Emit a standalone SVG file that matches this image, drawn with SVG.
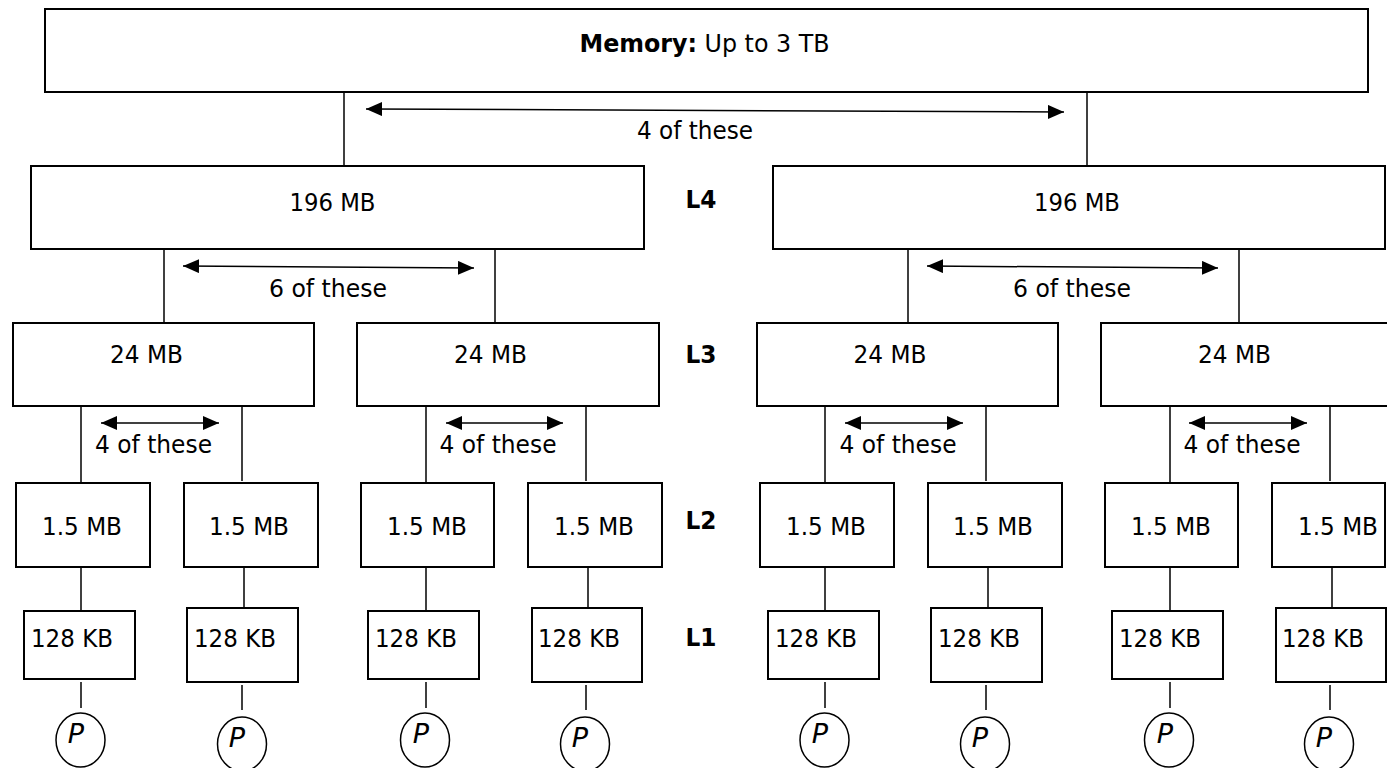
<svg xmlns="http://www.w3.org/2000/svg" width="1387" height="768" viewBox="0 0 1387 768">
<style>
.box{fill:#fff;stroke:#000;stroke-width:2}
.ln{stroke:#000;stroke-width:1.5;fill:none}
.ar{stroke:#000;stroke-width:1.5;fill:none;marker-start:url(#ah);marker-end:url(#ah)}
.t{font-family:"DejaVu Sans",Verdana,sans-serif;font-size:25px;fill:#000}
.c{text-anchor:middle}
.b{font-weight:bold}
.p{font-style:italic;font-size:27px}
.pc{fill:#fff;stroke:#000;stroke-width:1.5}
</style>
<defs>
<marker id="ah" markerUnits="userSpaceOnUse" markerWidth="16" markerHeight="14" refX="16" refY="7" orient="auto-start-reverse">
<path d="M0,0 L16,7 L0,14 z" fill="#000"/>
</marker>
</defs>
<rect width="1387" height="768" fill="#fff"/>
<g id="connectors">
<line class="ln" x1="344" y1="92" x2="344" y2="166"/>
<line class="ln" x1="1087" y1="92" x2="1087" y2="166"/>
<line class="ar" x1="366" y1="109" x2="1064" y2="112"/>
<line class="ln" x1="164" y1="249" x2="164" y2="323"/>
<line class="ln" x1="495" y1="249" x2="495" y2="323"/>
<line class="ln" x1="908" y1="249" x2="908" y2="323"/>
<line class="ln" x1="1239" y1="249" x2="1239" y2="323"/>
<line class="ar" x1="183" y1="266" x2="474" y2="268"/>
<line class="ar" x1="927" y1="266" x2="1218" y2="268"/>
<line class="ln" x1="81" y1="406" x2="81" y2="483"/>
<line class="ln" x1="242" y1="404" x2="242" y2="481"/>
<line class="ln" x1="426" y1="406" x2="426" y2="483"/>
<line class="ln" x1="586" y1="404" x2="586" y2="481"/>
<line class="ln" x1="825" y1="406" x2="825" y2="483"/>
<line class="ln" x1="986" y1="404" x2="986" y2="481"/>
<line class="ln" x1="1170" y1="406" x2="1170" y2="483"/>
<line class="ln" x1="1330" y1="404" x2="1330" y2="481"/>
<line class="ar" x1="101" y1="423" x2="219" y2="423"/>
<line class="ar" x1="446" y1="423" x2="563" y2="423"/>
<line class="ar" x1="845" y1="423" x2="963" y2="423"/>
<line class="ar" x1="1189" y1="423" x2="1307" y2="423"/>
<line class="ln" x1="81" y1="567" x2="81" y2="611"/>
<line class="ln" x1="244" y1="567" x2="244" y2="608"/>
<line class="ln" x1="426" y1="567" x2="426" y2="611"/>
<line class="ln" x1="588" y1="567" x2="588" y2="608"/>
<line class="ln" x1="825" y1="567" x2="825" y2="611"/>
<line class="ln" x1="988" y1="567" x2="988" y2="608"/>
<line class="ln" x1="1170" y1="567" x2="1170" y2="611"/>
<line class="ln" x1="1332" y1="567" x2="1332" y2="608"/>
<line class="ln" x1="81" y1="682" x2="81" y2="708"/>
<line class="ln" x1="242" y1="685" x2="242" y2="710"/>
<line class="ln" x1="426" y1="682" x2="426" y2="708"/>
<line class="ln" x1="586" y1="685" x2="586" y2="710"/>
<line class="ln" x1="825" y1="682" x2="825" y2="708"/>
<line class="ln" x1="986" y1="685" x2="986" y2="710"/>
<line class="ln" x1="1170" y1="682" x2="1170" y2="708"/>
<line class="ln" x1="1330" y1="685" x2="1330" y2="710"/>
</g>
<g id="labels">
<text class="t c" x="695" y="139" textLength="116" lengthAdjust="spacingAndGlyphs">4 of these</text>
<text class="t c" x="328" y="297" textLength="118" lengthAdjust="spacingAndGlyphs">6 of these</text>
<text class="t c" x="1072" y="297" textLength="118" lengthAdjust="spacingAndGlyphs">6 of these</text>
<text class="t c" x="153.5" y="453" textLength="117" lengthAdjust="spacingAndGlyphs">4 of these</text>
<text class="t c" x="498" y="453" textLength="117" lengthAdjust="spacingAndGlyphs">4 of these</text>
<text class="t c" x="898" y="453" textLength="117" lengthAdjust="spacingAndGlyphs">4 of these</text>
<text class="t c" x="1242" y="453" textLength="117" lengthAdjust="spacingAndGlyphs">4 of these</text>
<text class="t b c" x="701" y="208" textLength="31" lengthAdjust="spacingAndGlyphs">L4</text>
<text class="t b c" x="701" y="363" textLength="31" lengthAdjust="spacingAndGlyphs">L3</text>
<text class="t b c" x="701" y="529" textLength="31" lengthAdjust="spacingAndGlyphs">L2</text>
<text class="t b c" x="701" y="646" textLength="31" lengthAdjust="spacingAndGlyphs">L1</text>
</g>
<g id="memory">
<rect class="box" x="45" y="9" width="1323" height="83"/>
<text class="t c" x="704.5" y="52" textLength="250" lengthAdjust="spacingAndGlyphs"><tspan class="b">Memory:</tspan> Up to 3 TB</text>
</g>
<g id="l4-a"><rect class="box" x="31" y="166" width="613" height="83"/><text class="t c" x="332.5" y="211" textLength="86" lengthAdjust="spacingAndGlyphs">196 MB</text></g>
<g id="l4-b"><rect class="box" x="773" y="166" width="612" height="83"/><text class="t c" x="1077" y="211" textLength="86" lengthAdjust="spacingAndGlyphs">196 MB</text></g>
<g id="l3-a"><rect class="box" x="13" y="323" width="301" height="83"/><text class="t c" x="146.5" y="363" textLength="73" lengthAdjust="spacingAndGlyphs">24 MB</text></g>
<g id="l3-b"><rect class="box" x="357" y="323" width="302" height="83"/><text class="t c" x="490.5" y="363" textLength="73" lengthAdjust="spacingAndGlyphs">24 MB</text></g>
<g id="l3-c"><rect class="box" x="757" y="323" width="301" height="83"/><text class="t c" x="890" y="363" textLength="73" lengthAdjust="spacingAndGlyphs">24 MB</text></g>
<g id="l3-d"><rect class="box" x="1101" y="323" width="302" height="83"/><text class="t c" x="1234.5" y="363" textLength="73" lengthAdjust="spacingAndGlyphs">24 MB</text></g>
<g id="l2-a"><rect class="box" x="16" y="483" width="134" height="84"/><text class="t c" x="82" y="535" textLength="80" lengthAdjust="spacingAndGlyphs">1.5 MB</text></g>
<g id="l2-b"><rect class="box" x="184" y="483" width="134" height="84"/><text class="t c" x="249" y="535" textLength="80" lengthAdjust="spacingAndGlyphs">1.5 MB</text></g>
<g id="l2-c"><rect class="box" x="361" y="483" width="133" height="84"/><text class="t c" x="427" y="535" textLength="80" lengthAdjust="spacingAndGlyphs">1.5 MB</text></g>
<g id="l2-d"><rect class="box" x="528" y="483" width="134" height="84"/><text class="t c" x="594" y="535" textLength="80" lengthAdjust="spacingAndGlyphs">1.5 MB</text></g>
<g id="l2-e"><rect class="box" x="760" y="483" width="134" height="84"/><text class="t c" x="826" y="535" textLength="80" lengthAdjust="spacingAndGlyphs">1.5 MB</text></g>
<g id="l2-f"><rect class="box" x="928" y="483" width="134" height="84"/><text class="t c" x="993" y="535" textLength="80" lengthAdjust="spacingAndGlyphs">1.5 MB</text></g>
<g id="l2-g"><rect class="box" x="1105" y="483" width="133" height="84"/><text class="t c" x="1171" y="535" textLength="80" lengthAdjust="spacingAndGlyphs">1.5 MB</text></g>
<g id="l2-h"><rect class="box" x="1272" y="483" width="113" height="84"/><text class="t c" x="1338" y="535" textLength="80" lengthAdjust="spacingAndGlyphs">1.5 MB</text></g>
<g id="l1-a"><rect class="box" x="24" y="611" width="111" height="68"/><text class="t" x="31" y="647" textLength="82" lengthAdjust="spacingAndGlyphs">128 KB</text></g>
<g id="l1-b"><rect class="box" x="187" y="608" width="111" height="74"/><text class="t" x="194" y="647" textLength="82" lengthAdjust="spacingAndGlyphs">128 KB</text></g>
<g id="l1-c"><rect class="box" x="368" y="611" width="111" height="68"/><text class="t" x="375" y="647" textLength="82" lengthAdjust="spacingAndGlyphs">128 KB</text></g>
<g id="l1-d"><rect class="box" x="532" y="608" width="110" height="74"/><text class="t" x="538" y="647" textLength="82" lengthAdjust="spacingAndGlyphs">128 KB</text></g>
<g id="l1-e"><rect class="box" x="768" y="611" width="111" height="68"/><text class="t" x="775" y="647" textLength="82" lengthAdjust="spacingAndGlyphs">128 KB</text></g>
<g id="l1-f"><rect class="box" x="931" y="608" width="111" height="74"/><text class="t" x="938" y="647" textLength="82" lengthAdjust="spacingAndGlyphs">128 KB</text></g>
<g id="l1-g"><rect class="box" x="1112" y="611" width="111" height="68"/><text class="t" x="1119" y="647" textLength="82" lengthAdjust="spacingAndGlyphs">128 KB</text></g>
<g id="l1-h"><rect class="box" x="1276" y="608" width="110" height="74"/><text class="t" x="1282" y="647" textLength="82" lengthAdjust="spacingAndGlyphs">128 KB</text></g>
<g id="p-a"><ellipse class="pc" cx="80.5" cy="740" rx="24.5" ry="27"/><text class="t p c" x="76" y="743">P</text></g>
<g id="p-b"><ellipse class="pc" cx="242" cy="744" rx="24.5" ry="27"/><text class="t p c" x="237" y="747">P</text></g>
<g id="p-c"><ellipse class="pc" cx="425" cy="740" rx="24.5" ry="27"/><text class="t p c" x="421" y="743">P</text></g>
<g id="p-d"><ellipse class="pc" cx="585" cy="744" rx="24.5" ry="27"/><text class="t p c" x="580" y="747">P</text></g>
<g id="p-e"><ellipse class="pc" cx="824.5" cy="740" rx="24.5" ry="27"/><text class="t p c" x="820" y="743">P</text></g>
<g id="p-f"><ellipse class="pc" cx="985" cy="744" rx="24.5" ry="27"/><text class="t p c" x="980" y="747">P</text></g>
<g id="p-g"><ellipse class="pc" cx="1169" cy="740" rx="24.5" ry="27"/><text class="t p c" x="1165" y="743">P</text></g>
<g id="p-h"><ellipse class="pc" cx="1329" cy="744" rx="24.5" ry="27"/><text class="t p c" x="1324" y="747">P</text></g>
</svg>
